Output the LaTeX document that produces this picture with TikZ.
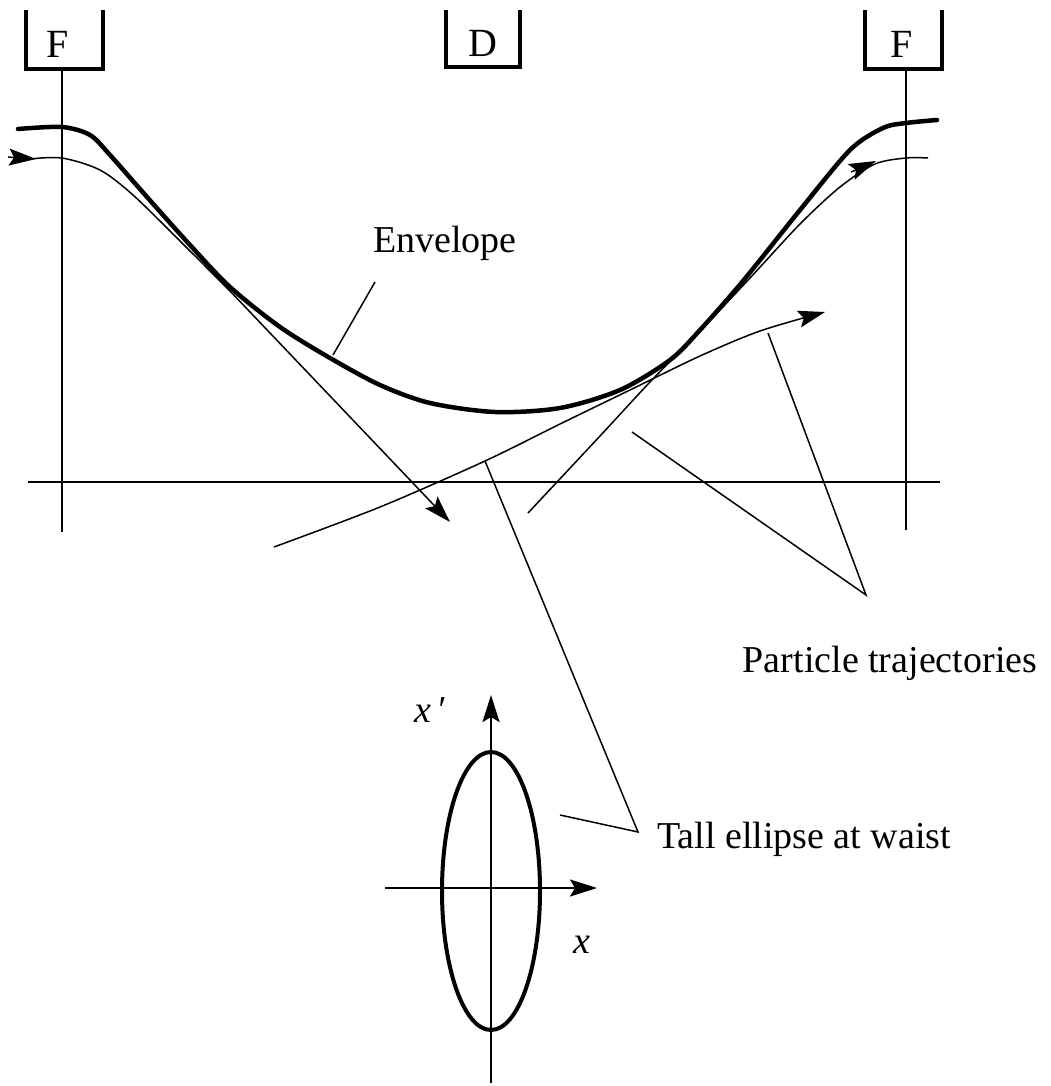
\documentclass[tikz,border=0pt]{standalone}
\usepackage{fontspec}
\setmainfont{Liberation Serif}
\usetikzlibrary{arrows.meta}
\begin{document}
\begin{tikzpicture}[x=1pt,y=-1pt,
  thinln/.style={line width=1.5pt},
  boxln/.style={line width=3.5pt},
  axisln/.style={line width=2pt},
  envln/.style={line width=4.5pt, line cap=round},
  ellln/.style={line width=4pt},
  tip/.style={-{Stealth[length=27pt,width=17pt,inset=5pt]}},
  lbl/.style={inner sep=0pt, anchor=base, font=\fontsize{38}{40}\selectfont},
  boxlbl/.style={inner sep=0pt, anchor=base, font=\fontsize{40}{42}\selectfont}]
\useasboundingbox (0,0) rectangle (1051,1086);
% lens boxes
\draw[boxln] (26,10) -- (26,69) -- (103,69) -- (103,10);
\node[boxlbl] (F1) at (58,58) {F};
\draw[boxln] (446,10) -- (446,67) -- (520,67) -- (520,10);
\node[boxlbl] (D) at (483,57) {D};
\draw[boxln] (865,10) -- (865,69) -- (942,69) -- (942,10);
\node[boxlbl] (F2) at (902,58) {F};
% axes of the beam line
\draw[axisln] (62,69) -- (62,532);
\draw[axisln] (906,69) -- (906,530);
\draw[axisln] (28,482) -- (940,482);
% envelope
\draw[envln] plot[smooth, tension=0.5] coordinates {(18,129) (62,127) (90,135) (110,155) (147,197) (190,245) (230,287) (280,327) (330,358) (380,385) (430,403) (495,412) (560,408) (620,390) (670,360) (700,330) (743,281) (800,210) (850,150) (883,128) (906,123) (937,120)};
% trajectory 1
\draw[thinln, tip] plot[smooth, tension=0.5] coordinates {(30,159) (62,158) (100,170) (133,195) (180,241) (230,291)} -- (450,522);
\draw[thinln, tip] (8,157) -- (36,159);
% trajectory 2
\draw[thinln] plot[smooth, tension=0.5] coordinates {(528,513) (600,436) (650,382) (700,331) (750,278) (800,224) (840,187) (875,164) (906,158) (928,158)};
\draw[thinln, tip] (851,172) -- (876,161);
% trajectory 3
\draw[thinln, tip] plot[smooth, tension=0.5] coordinates {(274,547) (380,507) (485,461) (560,424) (630,390) (700,356) (760,331) (825,312)};
% labels and leaders
\node[lbl] (env) at (445,252) {Envelope};
\coordinate (envA) at (375,282);
\coordinate (envB) at (333,355);
\draw[thinln] (envA) -- (envB);
\node[lbl] (pt) at (890,672) {Particle trajectories};
\coordinate (ptV) at (866,595);
\coordinate (ptA) at (632,432);
\coordinate (ptB) at (768,333);
\draw[thinln] (ptA) -- (ptV) -- (ptB);
\node[lbl] (te) at (804,848) {Tall ellipse at waist};
\coordinate (teV) at (638,832);
\coordinate (teA) at (560,815);
\coordinate (teB) at (485,461);
\draw[thinln] (teA) -- (teV) -- (teB);
% phase space ellipse
\draw[ellln] (491,891) ellipse [x radius=49, y radius=139];
\draw[axisln, tip] (385,888) -- (597,888);
\draw[axisln, tip] (491,1083) -- (491,695);
\node[lbl, font=\fontsize{38}{40}\selectfont\itshape] (xp) at (430,722) {x\hspace{5pt}\symbol{"2032}};
\node[lbl, font=\fontsize{38}{40}\selectfont\itshape] (xx) at (582,953) {x};
\end{tikzpicture}
\end{document}
